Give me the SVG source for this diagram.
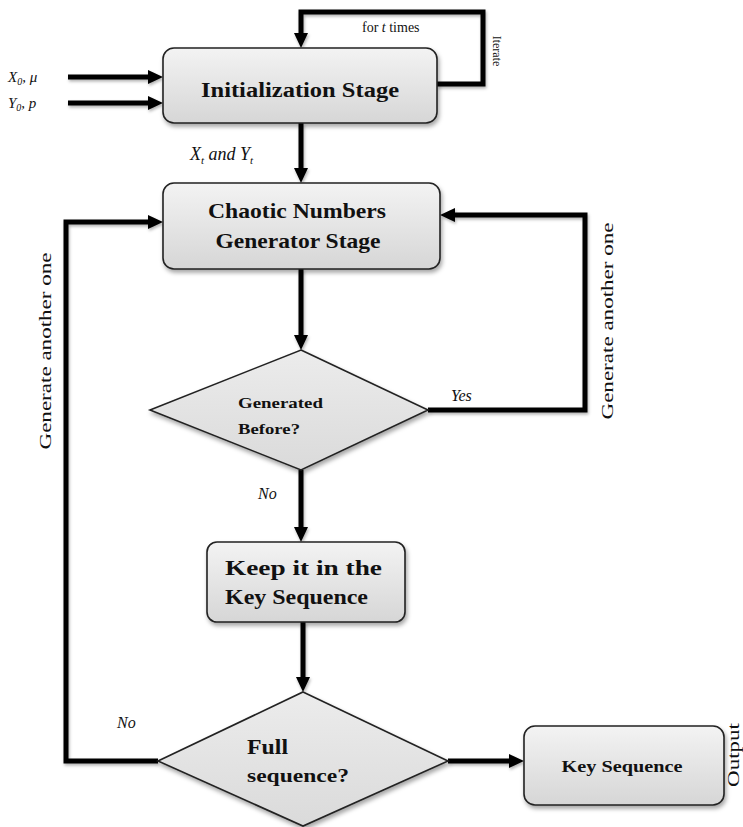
<svg xmlns="http://www.w3.org/2000/svg" width="743" height="827" viewBox="0 0 743 827">
<style>
.box{fill:url(#gBox);stroke:#222;stroke-width:1.6;filter:url(#sh)}
.dia{fill:url(#gDia);stroke:#222;stroke-width:1.6;filter:url(#sh)}
.con{fill:none;stroke:#000;stroke-width:5;stroke-linejoin:miter;filter:url(#shl)}
.arr{marker-end:url(#ah)}
.t{font-family:"Liberation Serif",serif;fill:#111}
.b{font-weight:bold}
.i{font-style:italic}
</style>
<defs>
<linearGradient id="gBox" x1="0" y1="0" x2="0" y2="1">
<stop offset="0" stop-color="#f3f3f3"/>
<stop offset="1" stop-color="#d6d6d6"/>
</linearGradient>
<linearGradient id="gDia" x1="0" y1="0" x2="0" y2="1">
<stop offset="0" stop-color="#ececec"/>
<stop offset="1" stop-color="#dadada"/>
</linearGradient>
<filter id="sh" x="-10%" y="-10%" width="130%" height="140%">
<feDropShadow dx="1.5" dy="3" stdDeviation="2" flood-color="#000" flood-opacity="0.35"/>
</filter>
<filter id="shl" filterUnits="userSpaceOnUse" x="0" y="0" width="743" height="827">
<feDropShadow dx="1" dy="2" stdDeviation="1.5" flood-color="#000" flood-opacity="0.3"/>
</filter>
<marker id="ah" markerUnits="userSpaceOnUse" markerWidth="15" markerHeight="14" refX="6" refY="7" orient="auto">
<path d="M0,0 L15,7 L0,14 z" fill="#000"/>
</marker>
</defs>

<g id="connectors">
<path class="con arr" d="M68,77 H154"/>
<path class="con arr" d="M68,103 H154"/>
<path class="con arr" d="M437,84 H483 V12 H301 V39"/>
<path class="con arr" d="M301,123 V174"/>
<path class="con arr" d="M301,269 V341"/>
<path class="con arr" d="M428,410 H585 V215 H449"/>
<path class="con arr" d="M301,470 V533"/>
<path class="con arr" d="M303,622 V683"/>
<path class="con arr" d="M448,761 H515"/>
<path class="con arr" d="M158,761 H66 V222 H154"/>
</g>

<g id="init">
<rect class="box" x="163" y="48" width="274" height="75" rx="11"/>
<text class="t b" x="300" y="97" font-size="20" text-anchor="middle" textLength="198" lengthAdjust="spacingAndGlyphs">Initialization Stage</text>
</g>

<g id="chaotic">
<rect class="box" x="163" y="183" width="277" height="86" rx="11"/>
<text class="t b" x="297" y="218" font-size="21" text-anchor="middle" textLength="178" lengthAdjust="spacingAndGlyphs">Chaotic Numbers</text>
<text class="t b" x="298" y="248" font-size="21" text-anchor="middle" textLength="165" lengthAdjust="spacingAndGlyphs">Generator Stage</text>
</g>

<g id="generated">
<polygon class="dia" points="301,350 428,410 301,470 150,410"/>
<text class="t b" x="238" y="408" font-size="15" textLength="85" lengthAdjust="spacingAndGlyphs">Generated</text>
<text class="t b" x="238" y="434" font-size="15" textLength="62" lengthAdjust="spacingAndGlyphs">Before?</text>
</g>

<g id="keep">
<rect class="box" x="207" y="542" width="198" height="80" rx="10"/>
<text class="t b" x="225" y="575" font-size="21" textLength="157" lengthAdjust="spacingAndGlyphs">Keep it in the</text>
<text class="t b" x="225" y="604" font-size="21" textLength="143" lengthAdjust="spacingAndGlyphs">Key Sequence</text>
</g>

<g id="full">
<polygon class="dia" points="303,692 448,761 303,826 158,761"/>
<text class="t b" x="247" y="754" font-size="21" textLength="41" lengthAdjust="spacingAndGlyphs">Full</text>
<text class="t b" x="247" y="782" font-size="19" textLength="102" lengthAdjust="spacingAndGlyphs">sequence?</text>
</g>

<g id="keyseq">
<rect class="box" x="524" y="726" width="200" height="79" rx="11"/>
<text class="t b" x="622" y="772" font-size="17" text-anchor="middle" textLength="121" lengthAdjust="spacingAndGlyphs">Key Sequence</text>
</g>

<g id="labels">
<text class="t i" x="8" y="82" font-size="15">X<tspan font-size="10" dy="3">0</tspan><tspan dy="-3">, μ</tspan></text>
<text class="t i" x="8" y="108" font-size="15">Y<tspan font-size="10" dy="3">0</tspan><tspan dy="-3">, p</tspan></text>
<text class="t" x="362" y="32" font-size="14">for <tspan font-style="italic">t</tspan> times</text>
<text class="t" font-size="12" transform="translate(493,51) rotate(90)" text-anchor="middle">Iterate</text>
<text class="t i" x="190" y="160" font-size="18">X<tspan font-size="11" dy="4">t</tspan><tspan dy="-4"> and Y</tspan><tspan font-size="11" dy="4">t</tspan></text>
<text class="t i" x="451" y="401" font-size="16">Yes</text>
<text class="t i" x="258" y="499" font-size="16">No</text>
<text class="t i" x="117" y="728" font-size="16">No</text>
<text class="t" font-size="17" transform="translate(613,321) rotate(-90)" text-anchor="middle" textLength="197" lengthAdjust="spacingAndGlyphs">Generate another one</text>
<text class="t" font-size="17" transform="translate(51,351) rotate(-90)" text-anchor="middle" textLength="197" lengthAdjust="spacingAndGlyphs">Generate another one</text>
<text class="t" font-size="17" transform="translate(739,755) rotate(-90)" text-anchor="middle" textLength="64" lengthAdjust="spacingAndGlyphs">Output</text>
</g>
</svg>
